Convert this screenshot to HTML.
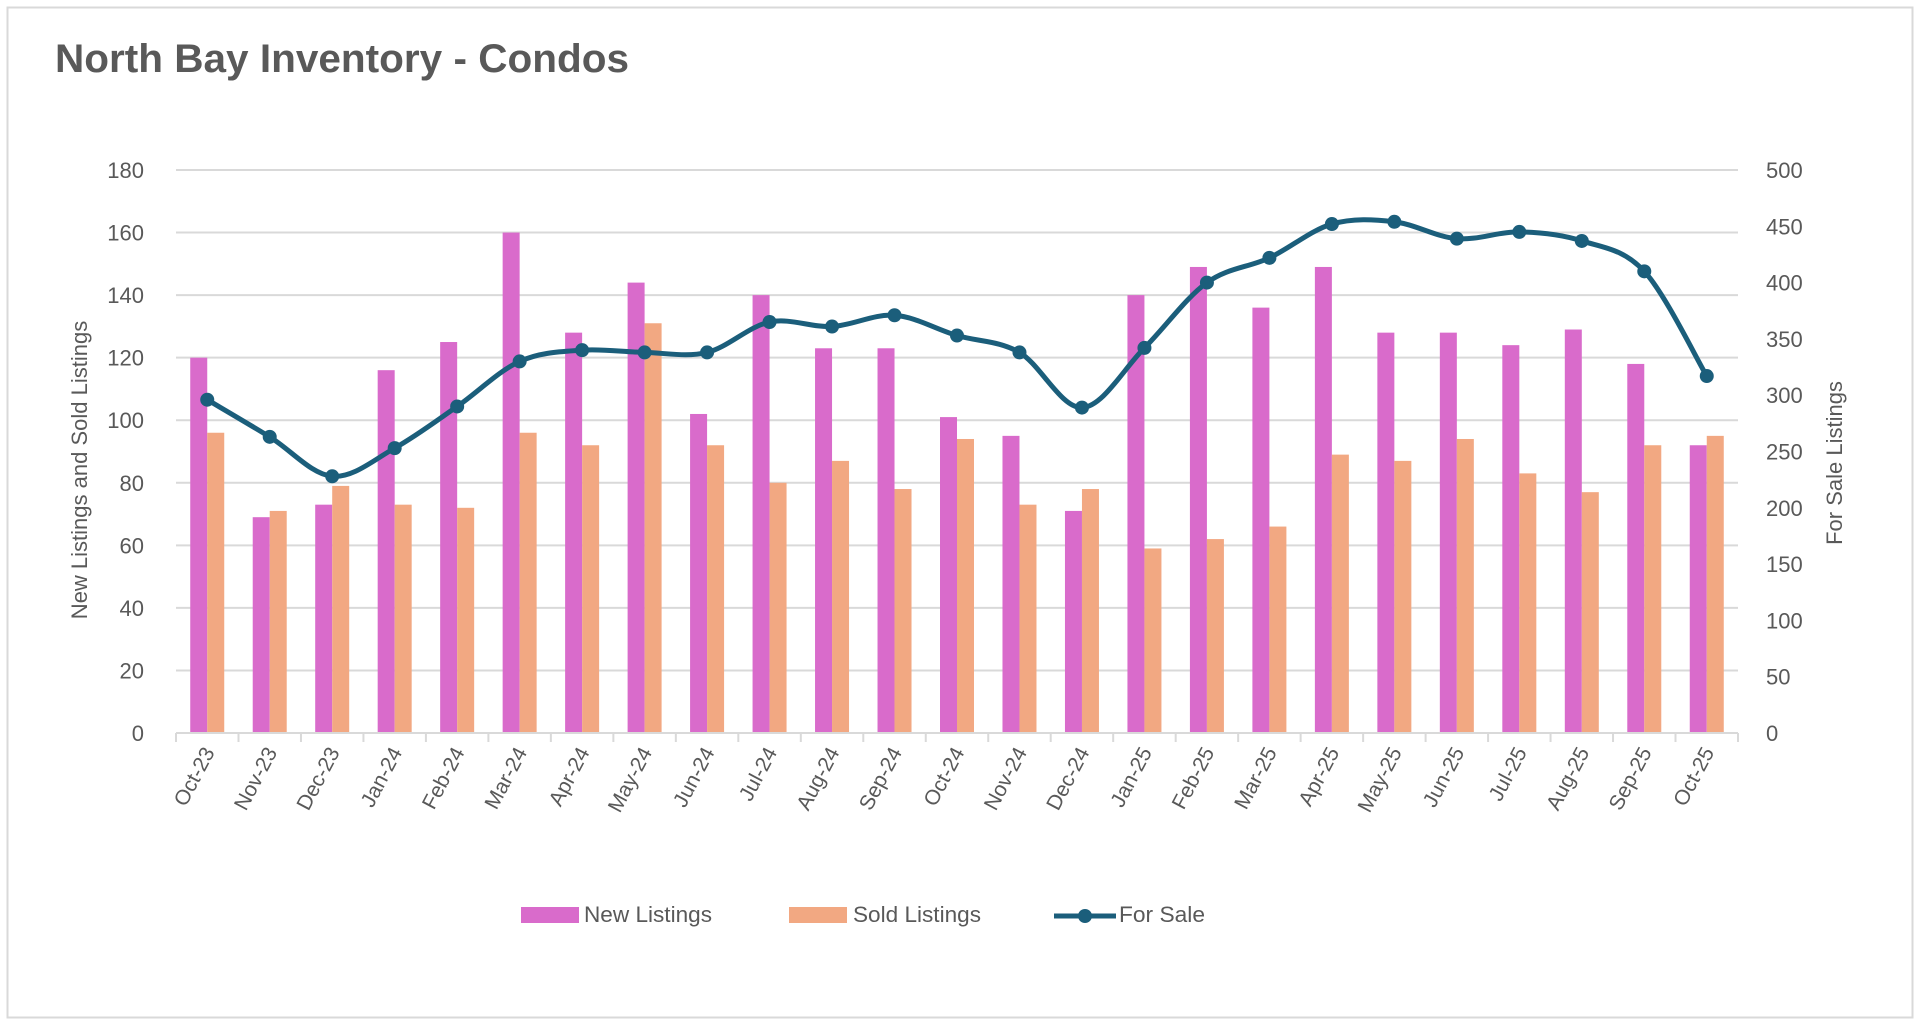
<!DOCTYPE html>
<html><head><meta charset="utf-8"><style>
html,body{margin:0;padding:0;background:#fff;}
svg{display:block;font-family:"Liberation Sans",Arial,sans-serif;}
</style></head><body>
<svg id="chart" width="1920" height="1026" viewBox="0 0 1920 1026" xmlns="http://www.w3.org/2000/svg">
<rect x="7.5" y="7.5" width="1905" height="1010" fill="#fff" stroke="#d9d9d9" stroke-width="2"/>
<text x="55" y="72" font-size="40" font-weight="bold" fill="#595959" textLength="574" lengthAdjust="spacingAndGlyphs">North Bay Inventory  - Condos</text>
<g id="grid"></g><g id="bars"></g><g id="axes"></g><g id="line"></g>
<text transform="translate(87,470) rotate(-90)" text-anchor="middle" font-size="22" fill="#595959">New Listings and Sold Listings</text>
<text transform="translate(1842,463) rotate(-90)" text-anchor="middle" font-size="22" fill="#595959">For Sale Listings</text>
<g>
<rect x="521" y="907" width="58" height="16" fill="#d96bcb"/>
<text x="584" y="922" font-size="22" fill="#595959" textLength="128" lengthAdjust="spacingAndGlyphs">New Listings</text>
<rect x="789" y="907" width="58" height="16" fill="#f2a882"/>
<text x="853" y="922" font-size="22" fill="#595959" textLength="128" lengthAdjust="spacingAndGlyphs">Sold Listings</text>
<line x1="1054" y1="916" x2="1116" y2="916" stroke="#1b5e7b" stroke-width="5"/>
<circle cx="1085" cy="916" r="7" fill="#1b5e7b"/>
<text x="1119" y="922" font-size="22" fill="#595959" textLength="86" lengthAdjust="spacingAndGlyphs">For Sale</text>
</g>
</svg>
<script>
const categories=["Oct-23","Nov-23","Dec-23","Jan-24","Feb-24","Mar-24","Apr-24","May-24","Jun-24","Jul-24","Aug-24","Sep-24","Oct-24","Nov-24","Dec-24","Jan-25","Feb-25","Mar-25","Apr-25","May-25","Jun-25","Jul-25","Aug-25","Sep-25","Oct-25"];
const newListings=[120,69,73,116,125,160,128,144,102,140,123,123,101,95,71,140,149,136,149,128,128,124,129,118,92];
const soldListings=[96,71,79,73,72,96,92,131,92,80,87,78,94,73,78,59,62,66,89,87,94,83,77,92,95];
const forSale=[296,263,228,253,290,330,340,338,338,365,361,371,353,338,289,342,400,422,452,454,439,445,437,410,317];
const leftTicks=[0,20,40,60,80,100,120,140,160,180];
const rightTicks=[0,50,100,150,200,250,300,350,400,450,500];

const NS="http://www.w3.org/2000/svg";
const X0=176,X1=1738,YT=170,YB=733;
const cw=(X1-X0)/categories.length;
const yL=v=>YB-(v/180)*(YB-YT);
const yR=v=>YB-(v/500)*(YB-YT);
const xC=i=>X0+cw*(i+0.5);
function mk(tag,attrs,parent){const e=document.createElementNS(NS,tag);for(const k in attrs)e.setAttribute(k,attrs[k]);parent.appendChild(e);return e;}
const grid=document.getElementById('grid'),bars=document.getElementById('bars'),axes=document.getElementById('axes'),line=document.getElementById('line');
leftTicks.forEach(t=>{
  if(t>0){const g=mk('line',{x1:X0,x2:X1,y1:yL(t),y2:yL(t),stroke:'#d9d9d9','stroke-width':2},grid);
  
  }
  const tx=mk('text',{x:144,y:yL(t)+8,'text-anchor':'end','font-size':22,fill:'#595959'},axes);
  tx.textContent=t;
  
  
});
rightTicks.forEach(t=>{
  const tx=mk('text',{x:1766,y:yR(t)+8,'font-size':22,fill:'#595959'},axes);
  tx.textContent=t;
  
  
});
const ax=mk('line',{x1:X0,x2:X1,y1:YB,y2:YB,stroke:'#d9d9d9','stroke-width':2},axes);


for(let i=0;i<=categories.length;i++){
  const tk=mk('line',{x1:X0+cw*i,x2:X0+cw*i,y1:YB,y2:YB+9,stroke:'#d9d9d9','stroke-width':2},axes);
  
  
}
const bw=17;
categories.forEach((c,i)=>{
  const cx=xC(i);
  const b1=mk('rect',{x:cx-bw,y:yL(newListings[i]),width:bw,height:YB-yL(newListings[i]),fill:'#d96bcb'},bars);
  
  
  const b2=mk('rect',{x:cx,y:yL(soldListings[i]),width:bw,height:YB-yL(soldListings[i]),fill:'#f2a882'},bars);
  
  
  const lx=cx+8,ly=752;
  const lb=mk('text',{x:lx,y:ly,'text-anchor':'end','font-size':21,fill:'#595959',transform:`rotate(-62 ${lx} ${ly})`},axes);
  lb.textContent=c;
  
  
});
const pts=forSale.map((v,i)=>[xC(i),yR(v)]);
let d=`M${pts[0][0]},${pts[0][1]}`;
for(let i=0;i<pts.length-1;i++){
  const p0=pts[Math.max(0,i-1)],p1=pts[i],p2=pts[i+1],p3=pts[Math.min(pts.length-1,i+2)];
  const t=6;
  d+=` C${p1[0]+(p2[0]-p0[0])/t},${p1[1]+(p2[1]-p0[1])/t} ${p2[0]-(p3[0]-p1[0])/t},${p2[1]-(p3[1]-p1[1])/t} ${p2[0]},${p2[1]}`;
}
const pl=mk('path',{d:d,fill:'none',stroke:'#1b5e7b','stroke-width':5},line);


pts.forEach((p,i)=>{
  const m=mk('circle',{cx:p[0],cy:p[1],r:7,fill:'#1b5e7b'},line);
  
  
});
</script>
</body></html>
